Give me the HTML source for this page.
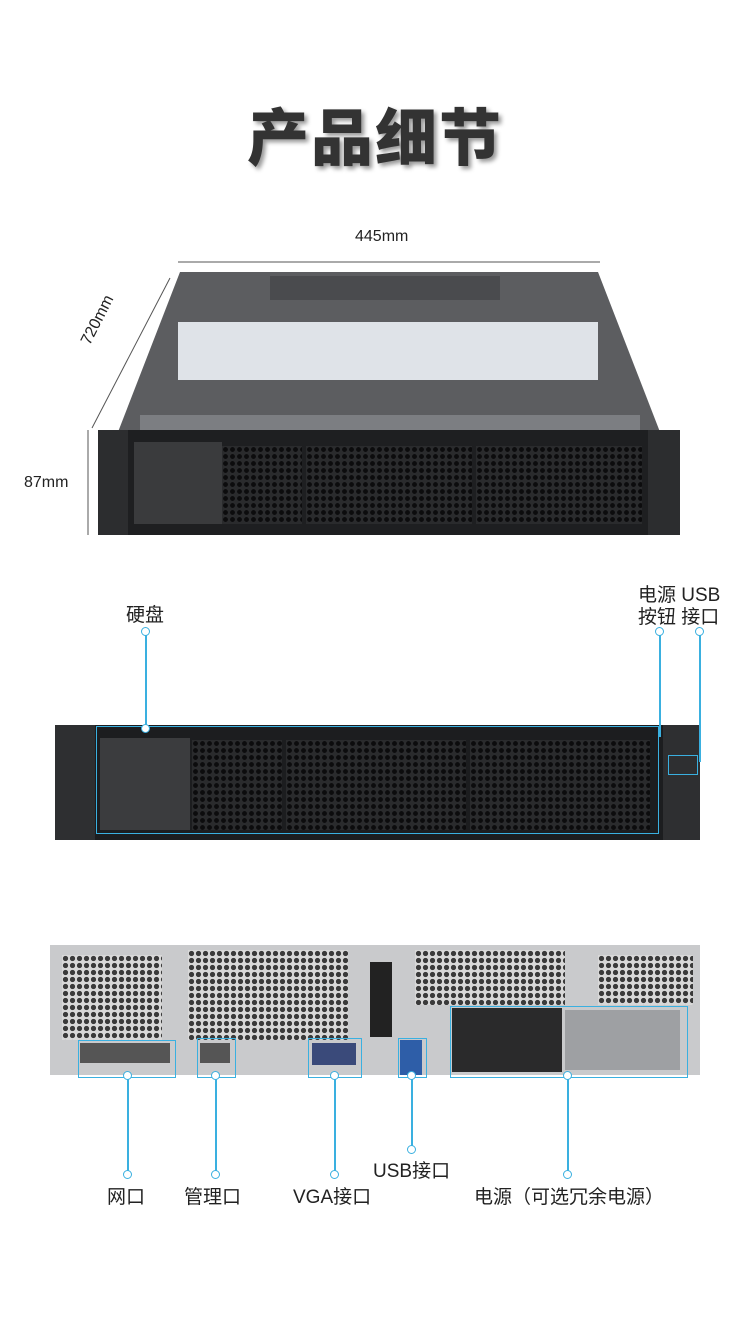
<!DOCTYPE html>
<html><head><meta charset="utf-8"><style>
body{margin:0;width:750px;height:1332px;background:#fff;position:relative;overflow:hidden;font-family:"Liberation Sans","Noto Sans CJK SC",sans-serif;color:#222}
.a{position:absolute}
.hex{background-color:#2a2b2d;background-image:radial-gradient(circle,#0c0c0d 2.2px,transparent 2.6px);background-size:7px 7px}
.hexl{background-color:#d8d8d8;background-image:radial-gradient(circle,#3a3a3a 2.4px,transparent 2.8px);background-size:7px 7px}
.lbl{position:absolute;font-size:19px;color:#222;white-space:nowrap}
.bl{position:absolute;background:#3ab0e0}
.dot{position:absolute;width:7px;height:7px;border:1.5px solid #3ab0e0;border-radius:50%;background:#fff}
</style></head><body>
<div class="a" style="left:0;width:750px;top:88px;text-align:center;font-size:62px;font-weight:900;color:#333;text-shadow:3px 3px 4px #999;letter-spacing:2px">产品细节</div>

<!-- dimensions -->
<div class="lbl" style="left:355px;top:228px;font-size:16px">445mm</div>
<div class="lbl" style="left:24px;top:474px;font-size:16px">87mm</div>
<div class="lbl" style="left:78px;top:340px;font-size:16px;transform:rotate(-63deg);transform-origin:left top">720mm</div>
<svg class="a" style="left:0;top:0" width="750" height="560">
<line x1="178" y1="262" x2="600" y2="262" stroke="#555"/>
<line x1="170" y1="278" x2="92" y2="428" stroke="#555"/>
<line x1="88" y1="430" x2="88" y2="535" stroke="#555"/>
<polygon points="180,272 598,272 660,432 118,432" fill="#5c5d60"/>
<rect x="178" y="322" width="420" height="58" fill="#dfe3e8"/>
<rect x="140" y="415" width="500" height="17" fill="#7c7e82"/>
<rect x="270" y="276" width="230" height="24" fill="#4a4b4e"/>
</svg>
<div class="a" style="left:98px;top:430px;width:582px;height:105px;background:#1e1f21"></div>
<div class="a" style="left:98px;top:430px;width:30px;height:105px;background:#2c2d2f"></div>
<div class="a" style="left:648px;top:430px;width:32px;height:105px;background:#2c2d2f"></div>
<div class="a" style="left:134px;top:442px;width:88px;height:82px;background:#3a3b3d"></div>
<div class="a hex" style="left:222px;top:446px;width:80px;height:78px"></div>
<div class="a hex" style="left:306px;top:446px;width:166px;height:78px"></div>
<div class="a hex" style="left:476px;top:446px;width:166px;height:78px"></div>

<!-- front view -->
<div class="lbl" style="left:126px;top:600px">硬盘</div>
<div class="lbl" style="left:638px;top:580px">电源 USB</div>
<div class="lbl" style="left:638px;top:602px">按钮 接口</div>
<div class="a" style="left:55px;top:725px;width:645px;height:115px;background:#1c1d1f"></div>
<div class="a" style="left:55px;top:725px;width:40px;height:115px;background:#2e2f31"></div>
<div class="a" style="left:663px;top:725px;width:37px;height:115px;background:#2e2f31"></div>
<div class="a" style="left:100px;top:738px;width:90px;height:92px;background:#3b3c3e"></div>
<div class="a hex" style="left:192px;top:740px;width:90px;height:90px"></div>
<div class="a hex" style="left:286px;top:740px;width:180px;height:90px"></div>
<div class="a hex" style="left:470px;top:740px;width:180px;height:90px"></div>
<div class="a" style="left:96px;top:726px;width:563px;height:108px;border:1px solid #3ab0e0;box-sizing:border-box"></div>
<div class="bl" style="left:145px;top:632px;width:1.5px;height:95px"></div>
<div class="dot" style="left:141px;top:627px"></div><div class="dot" style="left:141px;top:724px"></div>
<div class="bl" style="left:659px;top:632px;width:1.5px;height:105px"></div>
<div class="dot" style="left:655px;top:627px"></div>
<div class="bl" style="left:699px;top:632px;width:1.5px;height:130px"></div>
<div class="dot" style="left:695px;top:627px"></div>
<div class="a" style="left:668px;top:755px;width:28px;height:18px;border:1px solid #3ab0e0"></div>

<!-- rear view -->
<div class="a" style="left:50px;top:945px;width:650px;height:130px;background:#c9cacc"></div>
<div class="a hexl" style="left:62px;top:955px;width:100px;height:85px"></div>
<div class="a hexl" style="left:188px;top:950px;width:160px;height:90px"></div>
<div class="a hexl" style="left:415px;top:950px;width:150px;height:55px"></div>
<div class="a hexl" style="left:598px;top:955px;width:95px;height:50px"></div>
<div class="a" style="left:370px;top:962px;width:22px;height:75px;background:#222"></div>
<div class="a" style="left:452px;top:1008px;width:110px;height:64px;background:#2a2a2b"></div>
<div class="a" style="left:565px;top:1010px;width:115px;height:60px;background:#9ea0a3"></div>
<div class="a" style="left:80px;top:1043px;width:90px;height:20px;background:#555"></div>
<div class="a" style="left:200px;top:1043px;width:30px;height:20px;background:#555"></div>
<div class="a" style="left:312px;top:1043px;width:44px;height:22px;background:#3a4a7a"></div>
<div class="a" style="left:400px;top:1040px;width:22px;height:35px;background:#2e5ea8"></div>
<div class="a" style="left:78px;top:1040px;width:96px;height:36px;border:1px solid #3ab0e0"></div>
<div class="a" style="left:197px;top:1038px;width:37px;height:38px;border:1px solid #3ab0e0"></div>
<div class="a" style="left:308px;top:1038px;width:52px;height:38px;border:1px solid #3ab0e0"></div>
<div class="a" style="left:398px;top:1038px;width:27px;height:38px;border:1px solid #3ab0e0"></div>
<div class="a" style="left:450px;top:1006px;width:236px;height:70px;border:1px solid #3ab0e0"></div>
<div class="bl" style="left:127px;top:1076px;width:1.5px;height:98px"></div><div class="dot" style="left:123px;top:1170px"></div><div class="dot" style="left:123px;top:1071px"></div>
<div class="bl" style="left:215px;top:1076px;width:1.5px;height:98px"></div><div class="dot" style="left:211px;top:1170px"></div><div class="dot" style="left:211px;top:1071px"></div>
<div class="bl" style="left:334px;top:1076px;width:1.5px;height:98px"></div><div class="dot" style="left:330px;top:1170px"></div><div class="dot" style="left:330px;top:1071px"></div>
<div class="bl" style="left:411px;top:1076px;width:1.5px;height:72px"></div><div class="dot" style="left:407px;top:1145px"></div><div class="dot" style="left:407px;top:1071px"></div>
<div class="bl" style="left:567px;top:1076px;width:1.5px;height:98px"></div><div class="dot" style="left:563px;top:1170px"></div><div class="dot" style="left:563px;top:1071px"></div>
<div class="lbl" style="left:107px;top:1182px">网口</div>
<div class="lbl" style="left:184px;top:1182px">管理口</div>
<div class="lbl" style="left:293px;top:1182px">VGA接口</div>
<div class="lbl" style="left:373px;top:1156px">USB接口</div>
<div class="lbl" style="left:474px;top:1182px">电源（可选冗余电源）</div>
</body></html>
